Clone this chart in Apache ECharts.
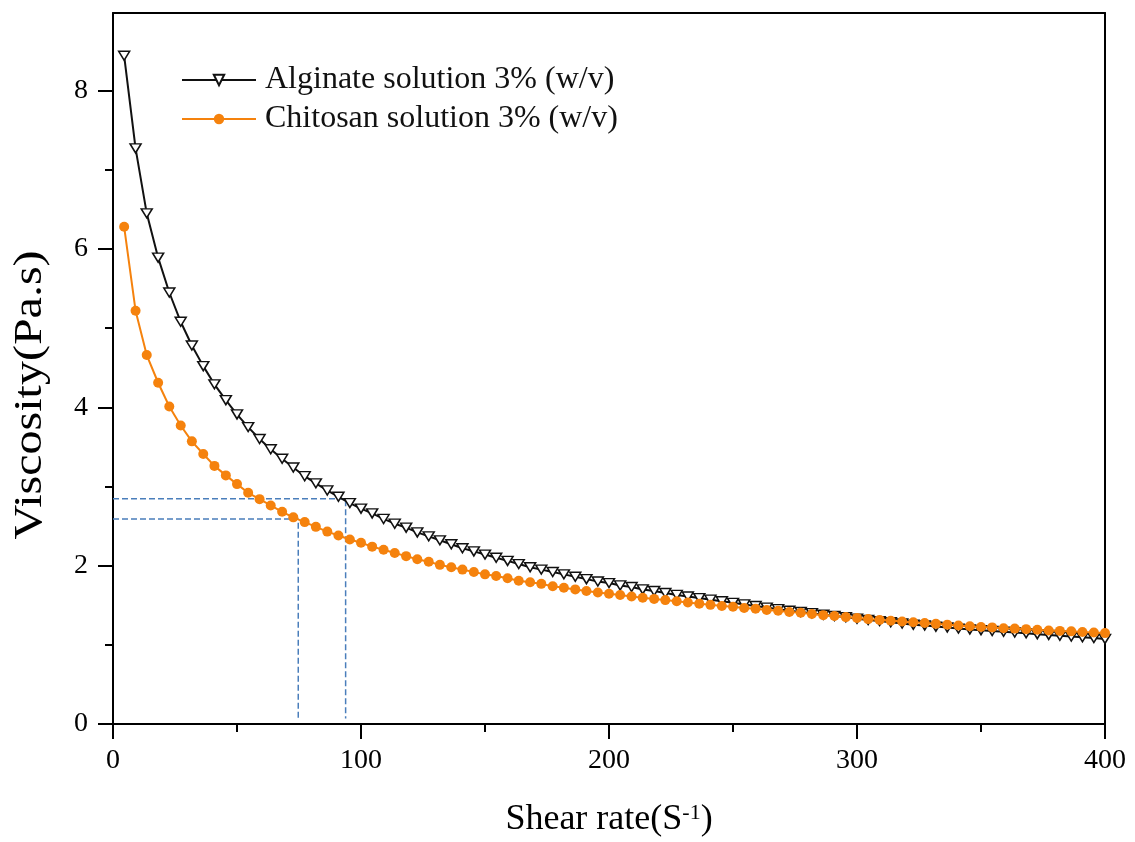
<!DOCTYPE html>
<html>
<head>
<meta charset="utf-8">
<script src="https://cdn.jsdelivr.net/npm/echarts@6/dist/echarts.min.js"></script>
<style>
html,body{margin:0;padding:0;background:#fff;}
#chart{width:1135px;height:842px;}
</style>
</head>
<body>
<div id="chart"></div>
<script>
// ---- data ----
const shearRate = [4.5, 9.1, 13.6, 18.2, 22.7, 27.3, 31.8, 36.4, 40.9, 45.5,
  50.0, 54.5, 59.1, 63.6, 68.2, 72.7, 77.3, 81.8, 86.4, 90.9,
  95.5, 100.0, 104.5, 109.1, 113.6, 118.2, 122.7, 127.3, 131.8, 136.4,
  140.9, 145.5, 150.0, 154.5, 159.1, 163.6, 168.2, 172.7, 177.3, 181.8,
  186.4, 190.9, 195.5, 200.0, 204.5, 209.1, 213.6, 218.2, 222.7, 227.3,
  231.8, 236.4, 240.9, 245.5, 250.0, 254.5, 259.1, 263.6, 268.2, 272.7,
  277.3, 281.8, 286.4, 290.9, 295.5, 300.0, 304.5, 309.1, 313.6, 318.2,
  322.7, 327.3, 331.8, 336.4, 340.9, 345.5, 350.0, 354.5, 359.1, 363.6,
  368.2, 372.7, 377.3, 381.8, 386.4, 390.9, 395.5, 400.0];

const alginate = [8.44, 7.27, 6.45, 5.89, 5.45, 5.08, 4.78, 4.52, 4.29, 4.09,
  3.91, 3.75, 3.60, 3.47, 3.35, 3.24, 3.13, 3.04, 2.95, 2.87,
  2.79, 2.72, 2.66, 2.59, 2.53, 2.48, 2.42, 2.37, 2.32, 2.27,
  2.22, 2.18, 2.14, 2.10, 2.06, 2.02, 1.98, 1.95, 1.92, 1.89,
  1.86, 1.83, 1.80, 1.78, 1.75, 1.73, 1.70, 1.68, 1.655, 1.63,
  1.61, 1.59, 1.57, 1.55, 1.53, 1.51, 1.49, 1.47, 1.45, 1.43,
  1.415, 1.40, 1.38, 1.365, 1.35, 1.33, 1.315, 1.30, 1.285, 1.27,
  1.255, 1.245, 1.23, 1.22, 1.205, 1.195, 1.185, 1.175, 1.165, 1.155,
  1.145, 1.135, 1.125, 1.115, 1.105, 1.095, 1.085, 1.075];

const chitosan = [6.28, 5.22, 4.66, 4.31, 4.01, 3.77, 3.57, 3.41, 3.26, 3.14,
  3.03, 2.92, 2.84, 2.76, 2.68, 2.61, 2.55, 2.49, 2.43, 2.38,
  2.33, 2.29, 2.24, 2.20, 2.16, 2.12, 2.08, 2.05, 2.01, 1.98,
  1.95, 1.92, 1.89, 1.87, 1.84, 1.81, 1.79, 1.77, 1.74, 1.72,
  1.70, 1.68, 1.66, 1.645, 1.63, 1.61, 1.595, 1.58, 1.565, 1.55,
  1.535, 1.52, 1.505, 1.49, 1.48, 1.465, 1.455, 1.44, 1.43, 1.415,
  1.405, 1.39, 1.375, 1.365, 1.35, 1.34, 1.325, 1.315, 1.305, 1.295,
  1.285, 1.275, 1.265, 1.255, 1.245, 1.235, 1.225, 1.22, 1.21, 1.205,
  1.198, 1.19, 1.182, 1.176, 1.17, 1.162, 1.155, 1.148];

const seriesNames = ['Alginate solution 3% (w/v)', 'Chitosan solution 3% (w/v)'];

// dashed guide lines (shear rate where each curve meets the guide level)
const guideX = [93.8, 74.7];
const guideY = [2.844, 2.59];
const guideBottom = 0.07;

const xTicks = [0, 100, 200, 300, 400];
const yMajorTicks = [0, 2, 4, 6, 8];
const yMinorTicks = [1, 3, 5, 7];
const yMax = 8.98;

// ---- chart ----
const FONT = 'Liberation Serif';
const chart = echarts.init(document.getElementById('chart'), null, {renderer: 'canvas'});

const axisLineStyle = {color: '#000', width: 2};
const pair = (xs, ys) => ys.map((v, i) => [xs[i], v]);

const guideSeries = guideX.map((gx, i) => ({
  type: 'line',
  silent: true,
  symbol: 'none',
  xAxisIndex: 0, yAxisIndex: 0,
  data: [[0, guideY[i]], [gx, guideY[i]], [gx, guideBottom]],
  lineStyle: {color: '#4a7ebb', width: 1.5, type: [6, 3]},
  z: 1
}));

const option = {
  animation: false,
  backgroundColor: '#fff',
  grid: {left: 113, right: 30, top: 13, bottom: 118, containLabel: false},
  legend: {
    orient: 'vertical',
    left: 181, top: 64, padding: 0,
    itemWidth: 74, itemHeight: 13, itemGap: 7,
    data: seriesNames,
    textStyle: {fontFamily: FONT, fontSize: 32, color: '#111', padding: [0, 0, 0, 4]}
  },
  xAxis: [{
    type: 'value', min: xTicks[0], max: xTicks[xTicks.length - 1], interval: 100,
    position: 'bottom',
    axisLine: {show: true, onZero: false, lineStyle: axisLineStyle},
    axisTick: {show: true, inside: false, length: 15, lineStyle: {color: '#000', width: 2}},
    minorTick: {show: true, splitNumber: 2, length: 8, lineStyle: {color: '#000', width: 2}},
    splitLine: {show: false}, minorSplitLine: {show: false},
    axisLabel: {fontFamily: FONT, fontSize: 28, color: '#000', margin: 23}
  }, {
    type: 'value', min: 0, max: 400, position: 'top',
    axisLine: {show: true, onZero: false, lineStyle: axisLineStyle},
    axisTick: {show: false}, axisLabel: {show: false}, splitLine: {show: false}
  }],
  yAxis: [{
    type: 'value', min: 0, max: yMax, position: 'left',
    axisLine: {show: true, onZero: false, lineStyle: axisLineStyle},
    axisTick: {show: true, inside: false, length: 15, customValues: yMajorTicks, lineStyle: {color: '#000', width: 2}},
    axisLabel: {customValues: yMajorTicks, fontFamily: FONT, fontSize: 28, color: '#000', margin: 25},
    splitLine: {show: false}
  }, {
    type: 'value', min: 0, max: yMax, position: 'left',
    axisLine: {show: false, onZero: false},
    axisTick: {show: true, inside: false, length: 8, customValues: yMinorTicks, lineStyle: {color: '#000', width: 2}},
    axisLabel: {show: false}, splitLine: {show: false}
  }, {
    type: 'value', min: 0, max: yMax, position: 'right',
    axisLine: {show: true, onZero: false, lineStyle: axisLineStyle},
    axisTick: {show: false}, axisLabel: {show: false}, splitLine: {show: false}
  }],
  series: guideSeries.concat([{
    name: seriesNames[0],
    type: 'line',
    xAxisIndex: 0, yAxisIndex: 0,
    data: pair(shearRate, alginate),
    symbol: 'path://M0,0 L11,0 L5.5,9 Z',
    symbolSize: [11, 9],
    showAllSymbol: true,
    itemStyle: {color: '#fff', borderColor: '#111', borderWidth: 1.5},
    lineStyle: {color: '#111', width: 2},
    z: 2
  }, {
    name: seriesNames[1],
    type: 'line',
    xAxisIndex: 0, yAxisIndex: 0,
    data: pair(shearRate, chitosan),
    symbol: 'circle',
    symbolSize: 10,
    showAllSymbol: true,
    itemStyle: {color: '#f5820d', borderWidth: 0},
    lineStyle: {color: '#f5820d', width: 2},
    z: 3
  }]),
  graphic: [{
    type: 'text',
    x: 609, y: 820,
    style: {
      text: '{a|Shear rate(S}{b|-1}{a|)}',
      align: 'center', verticalAlign: 'middle',
      rich: {
        a: {fontFamily: FONT, fontSize: 36, fill: '#000'},
        b: {fontFamily: FONT, fontSize: 22, fill: '#000', verticalAlign: 'top'}
      }
    }
  }, {
    type: 'text',
    x: 30, y: 395,
    rotation: Math.PI / 2,
    scaleX: 1.2,
    style: {
      text: 'Viscosity(Pa.s)',
      align: 'center', verticalAlign: 'middle',
      fontFamily: FONT, fontSize: 40, fill: '#000'
    }
  }]
};

chart.setOption(option);
</script>
</body>
</html>
